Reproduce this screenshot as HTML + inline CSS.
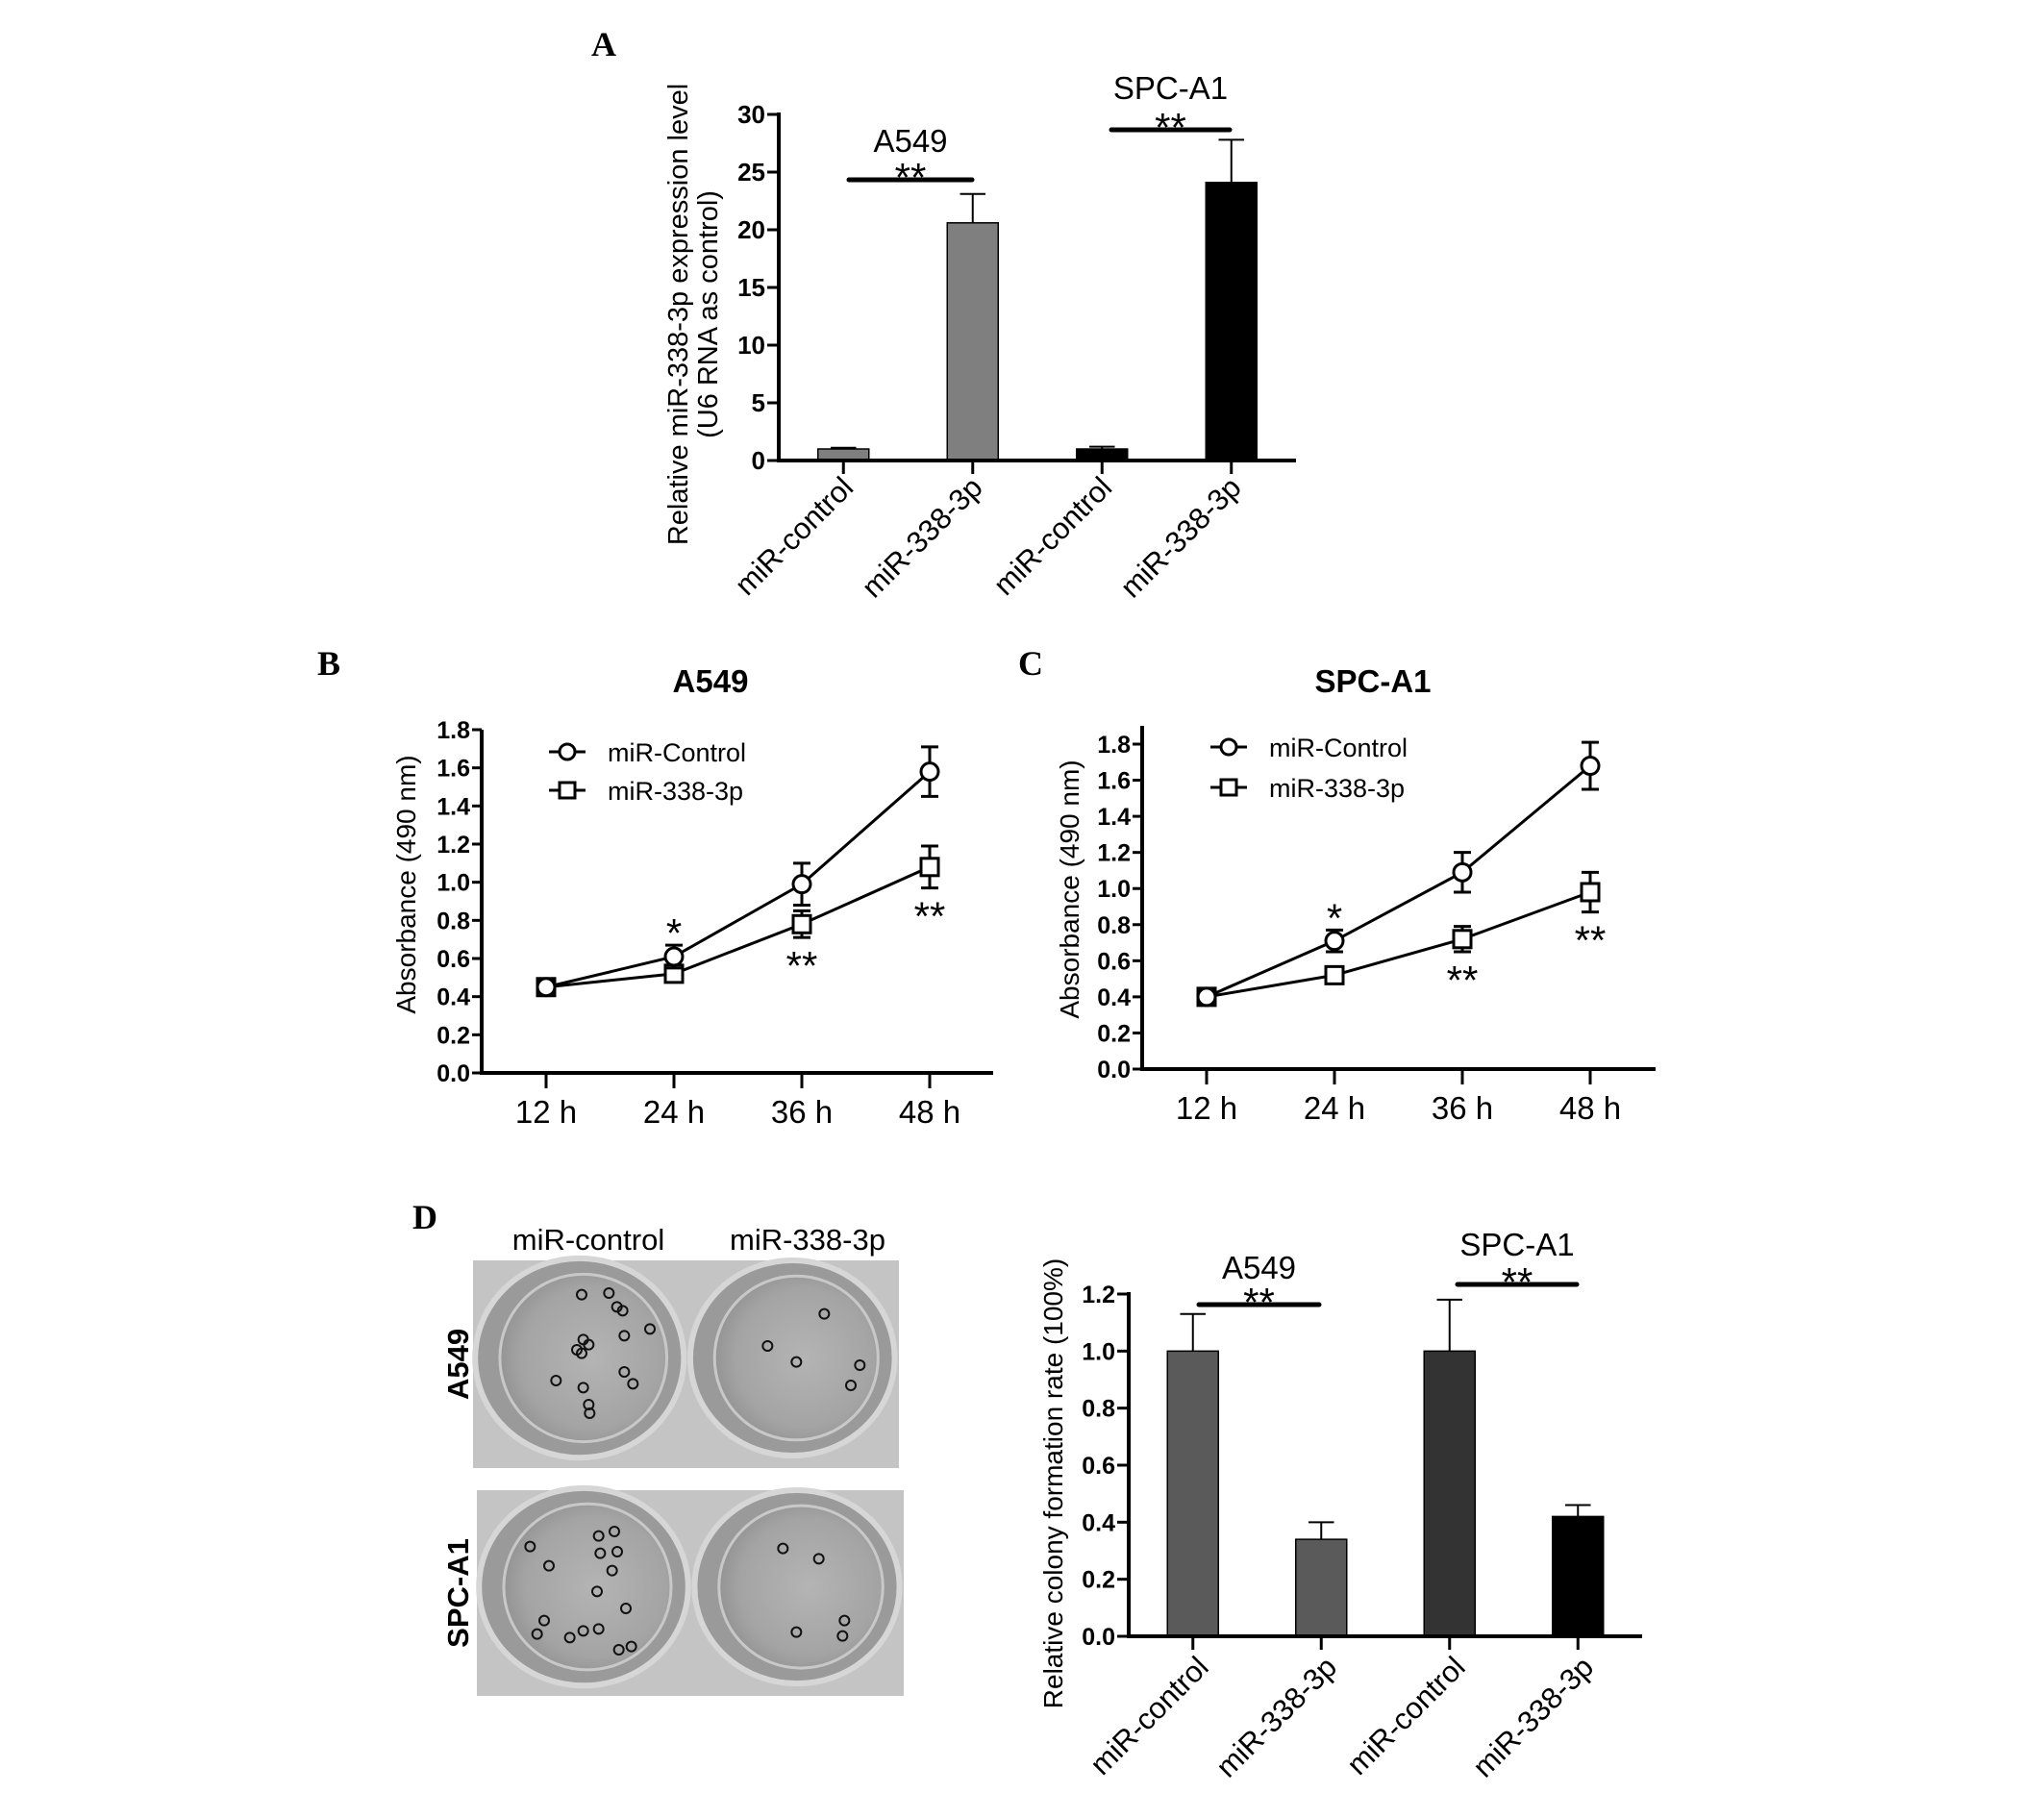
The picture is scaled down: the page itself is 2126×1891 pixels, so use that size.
<!DOCTYPE html>
<html><head><meta charset="utf-8">
<style>
html,body{margin:0;padding:0;background:#fff;}
svg{display:block;font-family:"Liberation Sans",Arial,sans-serif;}
</style></head>
<body>
<svg id="fig" width="2126" height="1891" viewBox="0 0 2126 1891" xmlns="http://www.w3.org/2000/svg">
  <defs>
    <radialGradient id="wellGrad" cx="0.55" cy="0.5" r="0.6">
      <stop offset="0" stop-color="#b4b4b4"/>
      <stop offset="0.7" stop-color="#a4a4a4"/>
      <stop offset="1" stop-color="#8e8e8e"/>
    </radialGradient>
  </defs>
  <text x="628" y="58" font-family="Liberation Serif, serif" font-weight="bold" font-size="36" text-anchor="middle">A</text>
  <text x="342" y="702" font-family="Liberation Serif, serif" font-weight="bold" font-size="36" text-anchor="middle">B</text>
  <text x="1072" y="702" font-family="Liberation Serif, serif" font-weight="bold" font-size="36" text-anchor="middle">C</text>
  <text x="442" y="1278" font-family="Liberation Serif, serif" font-weight="bold" font-size="36" text-anchor="middle">D</text>

  <g id="panelA"></g>
  <g id="panelB"></g>
  <g id="panelC"></g>
  <g id="photos"></g>
  <g id="panelD"></g>
</svg>
<script>
// ---------- Panel A data ----------
const aCategories = ["miR-control","miR-338-3p","miR-control","miR-338-3p"];
const aValues = [1.0, 20.6, 1.0, 24.1];
const aErrors = [0.1, 2.5, 0.2, 3.7];
const aColors = ["#7f7f7f","#7f7f7f","#000000","#000000"];
const aTicks = [0,5,10,15,20,25,30];
// ---------- Panel B data ----------
const bTimes = ["12 h","24 h","36 h","48 h"];
const bControl = [0.45, 0.61, 0.99, 1.58];
const bControlErr = [0.03, 0.06, 0.11, 0.13];
const bMiR = [0.45, 0.52, 0.78, 1.08];
const bMiRErr = [0.04, 0.04, 0.07, 0.11];
const bTicks = [0.0,0.2,0.4,0.6,0.8,1.0,1.2,1.4,1.6,1.8];
// ---------- Panel C data ----------
const cTimes = ["12 h","24 h","36 h","48 h"];
const cControl = [0.40, 0.71, 1.09, 1.68];
const cControlErr = [0.03, 0.06, 0.11, 0.13];
const cMiR = [0.40, 0.52, 0.72, 0.98];
const cMiRErr = [0.04, 0.03, 0.07, 0.11];
const cTicks = [0.0,0.2,0.4,0.6,0.8,1.0,1.2,1.4,1.6,1.8];
// ---------- Panel D data ----------
const dCategories = ["miR-control","miR-338-3p","miR-control","miR-338-3p"];
const dValues = [1.0, 0.34, 1.0, 0.42];
const dErrors = [0.13, 0.06, 0.18, 0.04];
const dColors = ["#5a5a5a","#5a5a5a","#333333","#000000"];
const dTicks = [0.0,0.2,0.4,0.6,0.8,1.0,1.2];

const NS = "http://www.w3.org/2000/svg";
function mk(parent, tag, attrs, text){
  const e = document.createElementNS(NS, tag);
  for (const k in attrs) e.setAttribute(k, attrs[k]);
  if (text !== undefined) e.textContent = text;
  parent.appendChild(e);
  return e;
}
function fmt(v, dec){ return dec ? v.toFixed(1) : String(v); }

function barChart(g, cfg, cats, vals, errs, cols, ticks){
  const y = v => cfg.y0 - (v - ticks[0]) / (ticks[ticks.length-1] - ticks[0]) * (cfg.y0 - cfg.yTop);
  const band = (cfg.x1 - cfg.x0) / cats.length;
  const cx = i => cfg.x0 + (i + 0.5) * band;
  let e = mk(g, "line", {x1:cfg.x0, y1:cfg.yTop-2, x2:cfg.x0, y2:cfg.y0+2, stroke:"#000","stroke-width":4});
  
  
  ticks.forEach(t => {
    const tl = mk(g, "line", {x1:cfg.x0-12, y1:y(t), x2:cfg.x0, y2:y(t), stroke:"#000","stroke-width":3});
    
    
    const tx = mk(g, "text", {x:cfg.x0-14, y:y(t)+9, "text-anchor":"end","font-size":cfg.tickFs,"font-weight":"bold"}, fmt(t, cfg.dec));
    
    
  });
  cats.forEach((c, i) => {
    const x = cx(i), bw = cfg.bw;
    const top = y(vals[i]), et = y(vals[i] + errs[i]);
    const el = mk(g, "line", {x1:x, y1:top, x2:x, y2:et, stroke:"#000","stroke-width":2});
    
    
    const ec = mk(g, "line", {x1:x-bw/4, y1:et, x2:x+bw/4, y2:et, stroke:"#000","stroke-width":2});
    
    
    const r = mk(g, "rect", {x:x-bw/2, y:top, width:bw, height:cfg.y0-top, fill:cols[i], stroke:"#000","stroke-width":1.5});
    
    
    const xt = mk(g, "line", {x1:x, y1:cfg.y0, x2:x, y2:cfg.y0+14, stroke:"#000","stroke-width":3});
    
    
    const ax = x + cfg.lblDx, ay = cfg.y0 + cfg.lblDy;
    const lb = mk(g, "text", {x:ax, y:ay, "text-anchor":"end","font-size":cfg.lblFs, transform:`rotate(-45 ${ax} ${ay})`}, c);
    
    
  });
  e = mk(g, "line", {x1:cfg.x0-2, y1:cfg.y0, x2:cfg.x1, y2:cfg.y0, stroke:"#000","stroke-width":4});
  
  
  return {y, cx};
}

function lineChart(g, cfg, times, s1, e1, s2, e2, ticks){
  const y = v => cfg.y0 - v / 1.8 * (cfg.y0 - cfg.y18);
  const x = i => cfg.x0 + 67 + i * 133;
  let e = mk(g, "line", {x1:cfg.x0, y1:cfg.yTop, x2:cfg.x0, y2:cfg.y0+2, stroke:"#000","stroke-width":4});
  
  
  e = mk(g, "line", {x1:cfg.x0-2, y1:cfg.y0, x2:cfg.x1, y2:cfg.y0, stroke:"#000","stroke-width":4});
  
  
  ticks.forEach(t => {
    const tl = mk(g, "line", {x1:cfg.x0-10, y1:y(t), x2:cfg.x0, y2:y(t), stroke:"#000","stroke-width":3});
    
    
    const tx = mk(g, "text", {x:cfg.x0-12, y:y(t)+9, "text-anchor":"end","font-size":25,"font-weight":"bold"}, t.toFixed(1));
    
    
  });
  times.forEach((t, i) => {
    const xt = mk(g, "line", {x1:x(i), y1:cfg.y0, x2:x(i), y2:cfg.y0+16, stroke:"#000","stroke-width":3});
    
    
    const lb = mk(g, "text", {x:x(i), y:cfg.y0+52, "text-anchor":"middle","font-size":33}, t);
    
    
  });
  function series(vals, errs, marker, name){
    const pts = vals.map((v, i) => x(i) + "," + y(v)).join(" ");
    const pl = mk(g, "polyline", {points:pts, fill:"none", stroke:"#000","stroke-width":3});
    
    
    vals.forEach((v, i) => {
      const hi = y(v + errs[i]), lo = y(v - errs[i]);
      const eb = mk(g, "path", {d:`M${x(i)},${hi}V${lo}M${x(i)-9},${hi}H${x(i)+9}M${x(i)-9},${lo}H${x(i)+9}`, stroke:"#000","stroke-width":3, fill:"none"});
      
      
      let m;
      if (marker === "circle") m = mk(g, "circle", {cx:x(i), cy:y(v), r:9, fill:"#fff", stroke:"#000","stroke-width":3});
      else m = mk(g, "rect", {x:x(i)-9, y:y(v)-9, width:18, height:18, fill:"#fff", stroke:"#000","stroke-width":3});
      
      
    });
  }
  series(s2, e2, "square", "mir-338-3p");
  series(s1, e1, "circle", "mir-control");
  const L = cfg.leg;
  let l1 = mk(g, "line", {x1:L.x, y1:L.y1, x2:L.x+38, y2:L.y1, stroke:"#000","stroke-width":3});
  
  
  let m1 = mk(g, "circle", {cx:L.x+19, cy:L.y1, r:8, fill:"#fff", stroke:"#000","stroke-width":3});
  
  
  let t1 = mk(g, "text", {x:L.x+61, y:L.y1+10, "font-size":27}, "miR-Control");
  
  
  let l2 = mk(g, "line", {x1:L.x, y1:L.y2, x2:L.x+38, y2:L.y2, stroke:"#000","stroke-width":3});
  
  
  let m2 = mk(g, "rect", {x:L.x+11, y:L.y2-8, width:16, height:16, fill:"#fff", stroke:"#000","stroke-width":3});
  
  
  let t2 = mk(g, "text", {x:L.x+61, y:L.y2+10, "font-size":27}, "miR-338-3p");
  
  
  return {x, y};
}

function star(g, x, y, s){
  const t = mk(g, "text", {x:x, y:y, "text-anchor":"middle","font-size":42}, s);
  
  
}
function sig(g, x1, x2, yl, label, ly){
  const l = mk(g, "line", {x1:x1, y1:yl, x2:x2, y2:yl, stroke:"#000","stroke-width":5,"stroke-linecap":"round"});
  
  
  star(g, (x1+x2)/2, yl+12, "**");
  const t = mk(g, "text", {x:(x1+x2)/2, y:ly, "text-anchor":"middle","font-size":33}, label);
  
  
}

// ----- Panel A -----
const gA = document.getElementById("panelA");
const A = barChart(gA, {x0:810, x1:1348, y0:479, yTop:119, bw:53, tickFs:26, dec:false, lblDx:12, lblDy:30, lblFs:31}, aCategories, aValues, aErrors, aColors, aTicks);
sig(gA, 883, 1011, 187, "A549", 158);
sig(gA, 1156, 1279, 135, "SPC-A1", 103);
let ta = mk(gA, "text", {x:0, y:0, "text-anchor":"middle","font-size":29, transform:"translate(715 327) rotate(-90)"}, "Relative miR-338-3p expression level");


ta = mk(gA, "text", {x:0, y:0, "text-anchor":"middle","font-size":29, transform:"translate(746 327) rotate(-90)"}, "(U6 RNA as control)");



// ----- Panel B -----
const gB = document.getElementById("panelB");
const B = lineChart(gB, {x0:501, x1:1033, y0:1116, y18:759, yTop:759, leg:{x:571, y1:782, y2:822}}, bTimes, bControl, bControlErr, bMiR, bMiRErr, bTicks);
star(gB, B.x(1), B.y(bControl[1]+bControlErr[1]) + 2, "*");
star(gB, B.x(2), B.y(bMiR[2]-bMiRErr[2]) + 44, "**");
star(gB, B.x(3), B.y(bMiR[3]-bMiRErr[3]) + 44, "**");
let tb = mk(gB, "text", {x:739, y:720, "text-anchor":"middle","font-size":33,"font-weight":"bold"}, "A549");


tb = mk(gB, "text", {x:0, y:0, "text-anchor":"middle","font-size":28, transform:"translate(432 920) rotate(-90)"}, "Absorbance (490 nm)");



// ----- Panel C -----
const gC = document.getElementById("panelC");
const C = lineChart(gC, {x0:1188, x1:1722, y0:1112, y18:774, yTop:755, leg:{x:1259, y1:777, y2:819}}, cTimes, cControl, cControlErr, cMiR, cMiRErr, cTicks);
star(gC, C.x(1), C.y(cControl[1]+cControlErr[1]) + 2, "*");
star(gC, C.x(2), C.y(cMiR[2]-cMiRErr[2]) + 44, "**");
star(gC, C.x(3), C.y(cMiR[3]-cMiRErr[3]) + 44, "**");
let tc = mk(gC, "text", {x:1428, y:720, "text-anchor":"middle","font-size":33,"font-weight":"bold"}, "SPC-A1");


tc = mk(gC, "text", {x:0, y:0, "text-anchor":"middle","font-size":28, transform:"translate(1122 925) rotate(-90)"}, "Absorbance (490 nm)");



// ----- Photos -----
const gP = document.getElementById("photos");
function photo(x0, y0, w, h, name){
  const r = mk(gP, "rect", {x:x0, y:y0, width:w, height:h, fill:"#c4c4c4"});
  
  
  [[0.25,0.47,0.245,0.48],[0.75,0.47,0.24,0.47]].forEach(wl => {
    const cx = x0 + wl[0]*w, cy = y0 + wl[1]*h;
    const o = mk(gP, "ellipse", {cx:cx, cy:cy, rx:wl[2]*w, ry:wl[3]*h, fill:"#9a9a9a", stroke:"#d6d6d6","stroke-width":6});
    
    
    const i = mk(gP, "ellipse", {cx:cx+4, cy:cy, rx:wl[2]*w*0.8, ry:wl[3]*h*0.84, fill:"url(#wellGrad)", stroke:"#c8c8c8","stroke-width":3});
    
    
  });
}
photo(492, 1311, 443, 216, "photo-a549");
photo(496, 1550, 444, 214, "photo-spc-a1");
const colonyA549 = [[375,140],[460,135],[485,178],[503,190],[588,247],[508,268],[380,280],[397,296],[360,312],[375,323],[295,408],[508,381],[535,418],[380,430],[397,483],[400,510],[1132,200],[955,300],[1045,350],[1243,360],[1215,423]];
const colonySPC = [[214,926],[273,986],[428,893],[477,879],[433,947],[486,942],[470,1001],[423,1066],[513,1119],[258,1157],[236,1199],[338,1210],[380,1189],[428,1183],[491,1248],[530,1238],[1003,932],[1115,964],[1195,1157],[1189,1205],[1045,1193]];
colonyA549.concat(colonySPC).forEach(p => {
  const c = mk(gP, "circle", {cx:480 + p[0]/3, cy:1300 + p[1]/3, r:5, fill:"none", stroke:"#111","stroke-width":2});
  
  
});
[["miR-control",612,1300],["miR-338-3p",840,1300]].forEach(t => {
  const e = mk(gP, "text", {x:t[1], y:t[2], "text-anchor":"middle","font-size":31}, t[0]);
  
  
});
[["A549",1419],["SPC-A1",1657]].forEach(t => {
  const e = mk(gP, "text", {x:0, y:0, "text-anchor":"middle","font-size":31,"font-weight":"bold", transform:`translate(487 ${t[1]}) rotate(-90)`}, t[0]);
  
  
});

// ----- Panel D -----
const gD = document.getElementById("panelD");
const D = barChart(gD, {x0:1174, x1:1708, y0:1702, yTop:1346, bw:53, tickFs:25, dec:true, lblDx:18, lblDy:34, lblFs:31}, dCategories, dValues, dErrors, dColors, dTicks);
sig(gD, 1247, 1372, 1357, "A549", 1330);
sig(gD, 1516, 1640, 1336, "SPC-A1", 1306);
let td = mk(gD, "text", {x:0, y:0, "text-anchor":"middle","font-size":28, transform:"translate(1105 1543) rotate(-90)"}, "Relative colony formation rate (100%)");


</script>
</body></html>
